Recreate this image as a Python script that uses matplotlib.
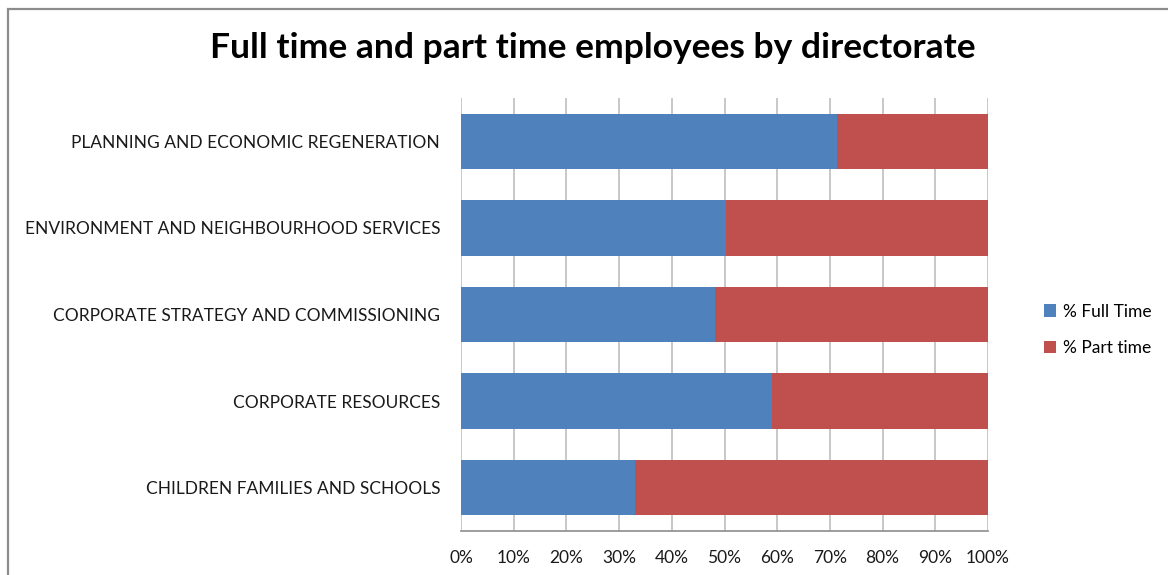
import matplotlib
matplotlib.use("Agg")
import matplotlib.pyplot as plt
from matplotlib.patches import Rectangle

directorates = [
    "CHILDREN FAMILIES AND SCHOOLS",
    "CORPORATE RESOURCES",
    "CORPORATE STRATEGY AND COMMISSIONING",
    "ENVIRONMENT AND NEIGHBOURHOOD SERVICES",
    "PLANNING AND ECONOMIC REGENERATION",
]
full_time = [33.1, 59.1, 48.2, 50.3, 71.3]
part_time = [100 - v for v in full_time]
x_ticks = list(range(0, 101, 10))
x_labels = [f"{t}%" for t in x_ticks]

plt.rcParams["font.family"] = ["Lato", "DejaVu Sans"]

W, H = 1168, 575
fig = plt.figure(figsize=(W / 100, H / 100), dpi=100)
ax = fig.add_axes([461 / W, 1 - 531 / H, (988 - 461) / W, (531 - 98) / H])

blue = "#4F81BD"
red = "#C0504D"
ypos = range(len(directorates))
ax.barh(ypos, full_time, height=0.64, color=blue, label="% Full Time", zorder=3)
ax.barh(ypos, part_time, left=full_time, height=0.64, color=red,
        label="% Part time", zorder=3)

ax.set_xlim(0, 100)
ax.set_ylim(-0.5, len(directorates) - 0.5)
ax.set_xticks(x_ticks)
ax.set_xticklabels(x_labels, fontsize=12.5, color="#1a1a1a")
ax.set_yticks(list(ypos))
ax.set_yticklabels(directorates, fontsize=12.5, color="#1a1a1a")
ax.tick_params(axis="y", length=0, pad=15)
ax.tick_params(axis="x", length=0, pad=14)
ax.grid(axis="x", color="#bfbfbf", linewidth=1.2, zorder=0)
for side in ("top", "right", "left"):
    ax.spines[side].set_visible(False)
ax.spines["bottom"].set_color("#8c8c8c")
ax.spines["bottom"].set_linewidth(1.2)

fig.text(593 / W, 1 - 48 / H, "Full time and part time employees by directorate",
         ha="center", va="center", fontsize=25.5, fontweight="bold", color="black")

ax.legend(loc="center left", bbox_to_anchor=(1028 / W, 1 - 330 / H),
          bbox_transform=fig.transFigure, frameon=False, fontsize=12.5,
          handlelength=0.7, handleheight=0.7, handletextpad=0.4,
          labelspacing=1.2)

fig.patches.append(Rectangle((8 / W, -0.05), 1.2, 1 - 9 / H + 0.05,
                             transform=fig.transFigure, fill=False,
                             edgecolor="#8c8c8c", linewidth=1.6))

fig.savefig("out.png", dpi=100, facecolor="white")
